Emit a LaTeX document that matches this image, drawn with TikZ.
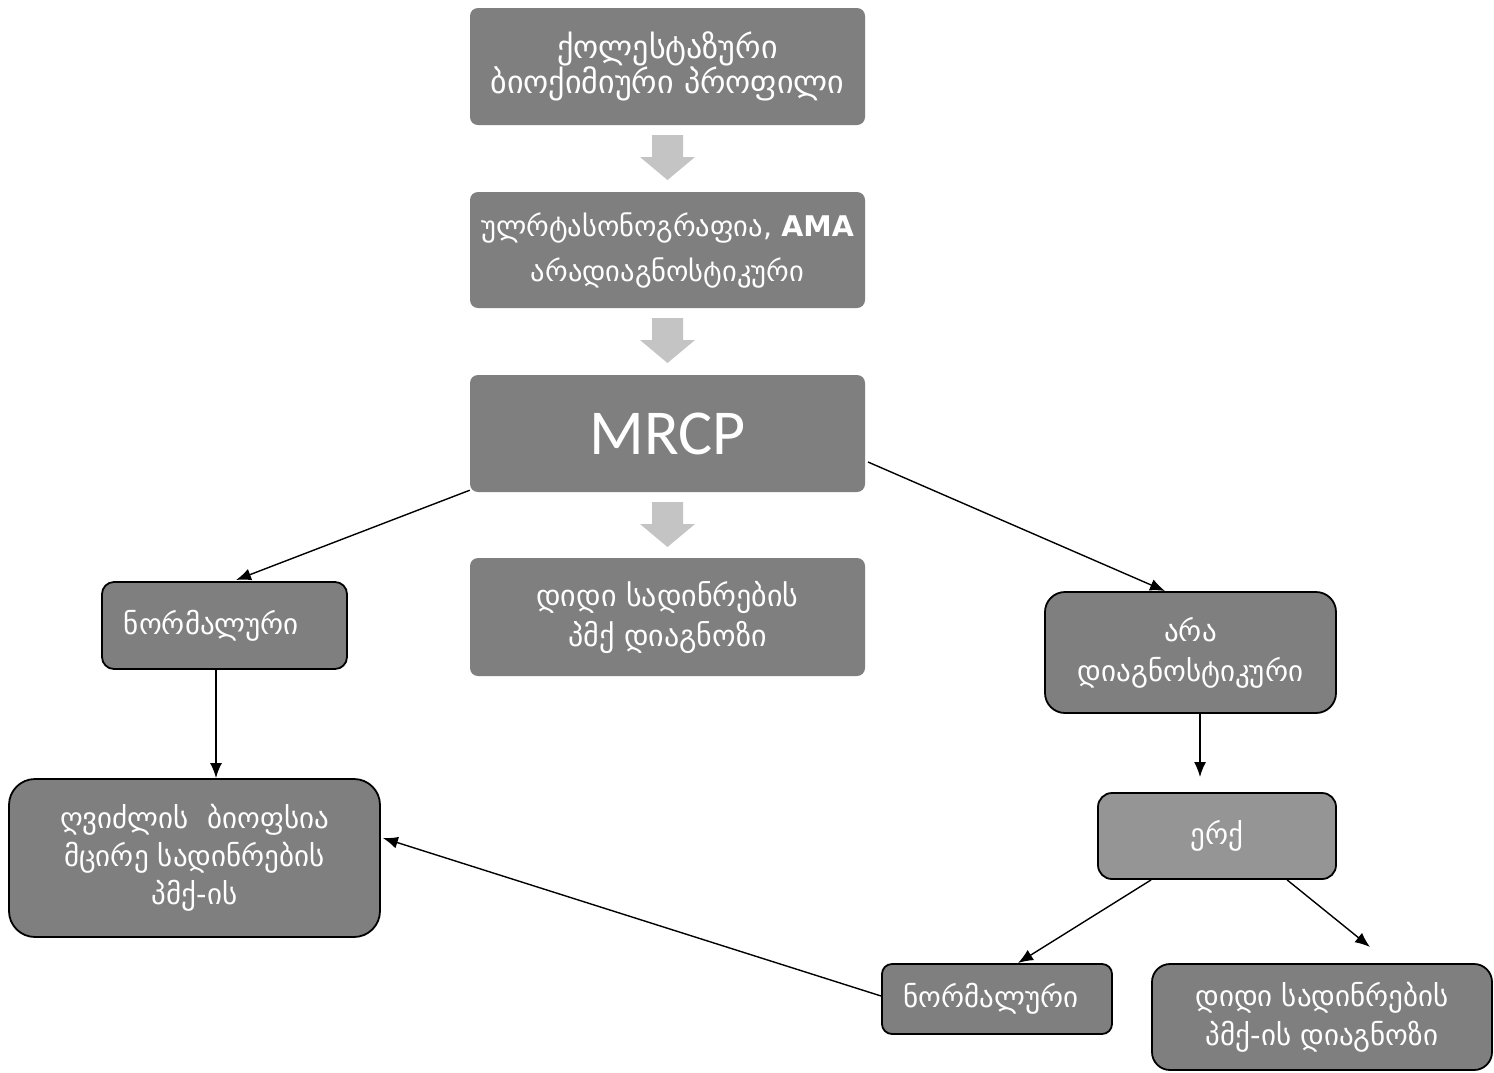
\documentclass[tikz,border=0pt]{standalone}
\usepackage{fontspec}
\usetikzlibrary{arrows.meta,calc}
\newfontfamily\geo{DejaVu Sans}
\newfontfamily\calib{Carlito}
\definecolor{boxgray}{HTML}{7F7F7F}
\definecolor{lightbox}{HTML}{959595}
\definecolor{blockarrow}{HTML}{C4C4C4}
\tikzset{
  topbox/.style={rectangle, rounded corners=8pt, fill=boxgray, text=white, align=center,
    minimum width=395pt, inner sep=0pt, font=\geo\fontsize{30}{40}\selectfont},
  flowbox/.style={rectangle, rounded corners=14pt, fill=boxgray, draw=black, line width=1.8pt,
    text=white, align=center, inner sep=0pt, font=\geo\fontsize{29}{38}\selectfont},
  conn/.style={line width=1.4pt, -{Latex[length=15pt,width=12pt]}},
  blockarr/.style={fill=blockarrow, draw=none}
}
\begin{document}
\begin{tikzpicture}[x=1pt,y=-1pt]
\useasboundingbox (0,0) rectangle (1494,1072);
\fill[white] (0,0) rectangle (1494,1072);

% top column
\node[topbox, minimum height=117pt, font=\geo\fontsize{32}{33}\selectfont] (b1) at (667.5,66.5) {ქოლესტაზური\\ბიოქიმიური პროფილი};
\node[topbox, minimum height=116pt, font=\geo\fontsize{28.5}{45}\selectfont] (b2) at (667.5,250) {ულრტასონოგრაფია, \textbf{AMA}\\არადიაგნოსტიკური};
\node[topbox, minimum height=117pt, font=\calib\fontsize{64}{70}\selectfont] (b3) at (667.5,433.5) {MRCP};
\node[topbox, minimum height=118pt, font=\geo\fontsize{30}{40}\selectfont] (b4) at (667.5,617) {დიდი სადინრების\\პმქ დიაგნოზი};

% block arrows
\foreach \ty in {135,318,502}{
  \fill[blockarr] (652,\ty) -- (683,\ty) -- (683,\ty+22) -- (695,\ty+22) -- (667.5,\ty+45)
     -- (640,\ty+22) -- (652,\ty+22) -- cycle;
}

% left branch
\node[flowbox, minimum width=245pt, minimum height=87pt, rounded corners=12pt] (nl) at (224.5,625.5) {\raisebox{7pt}{ნორმალური}\hspace*{26pt}};
\node[flowbox, minimum width=371pt, minimum height=158pt, rounded corners=26pt] (bio) at (194.5,858) {ღვიძლის\ \ ბიოფსია\\მცირე სადინრების\\პმქ-ის};

% right branch
\node[flowbox, minimum width=291pt, minimum height=121pt, rounded corners=20pt, font=\geo\fontsize{29}{40}\selectfont] (nd) at (1190.5,652.5) {არა\\დიაგნოსტიკური};
\node[flowbox, fill=lightbox, minimum width=238pt, minimum height=86pt, rounded corners=14pt] (erq) at (1217,836) {ერქ};
\node[flowbox, minimum width=230pt, minimum height=70pt, rounded corners=10pt] (nb) at (997,999) {\hspace*{-12pt}ნორმალური};
\node[flowbox, minimum width=340pt, minimum height=106pt, rounded corners=18pt, font=\geo\fontsize{29}{39}\selectfont] (big) at (1322,1017) {დიდი სადინრების\\პმქ-ის დიაგნოზი};

% connector end points
\coordinate (t1) at (236,580);
\coordinate (t2) at (1165,591);
\coordinate (t3) at (216,778);
\coordinate (t4) at (1200,777);
\coordinate (t5) at (1018,963);
\coordinate (t6) at (1370,947);
\coordinate (s2) at (868,462);

\draw[conn] ($(b3.south west)+(0,-2)$) -- (t1);
\draw[conn] (s2) -- (t2);
\draw[conn] (nl.south -| t3) -- (t3);
\draw[conn] (nd.south -| t4) -- (t4);
\draw[conn] ($(erq.south west)+(54,0)$) -- (t5);
\draw[conn] ($(erq.south west)+(190,0)$) -- (t6);
\draw[conn] ($(nb.west)+(0,-3)$) -- ($(bio.east)+(2,-20)$);
\end{tikzpicture}
\end{document}
